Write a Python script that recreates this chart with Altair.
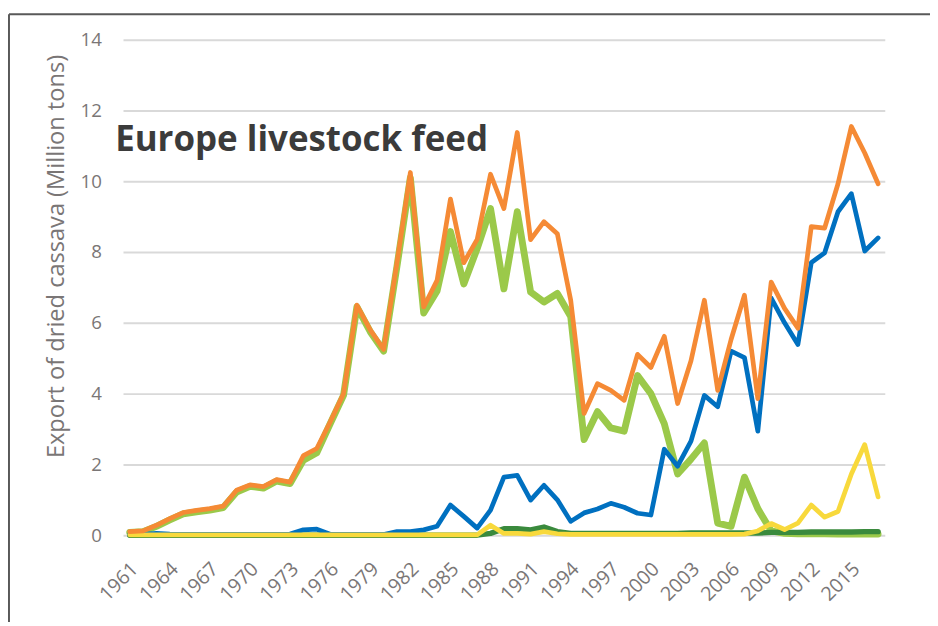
import altair as alt
import pandas as pd

years = list(range(1961, 2018))

total = [0.10, 0.12, 0.28, 0.47, 0.64, 0.70, 0.75, 0.82, 1.27, 1.42,
         1.37, 1.57, 1.50, 2.25, 2.45, 3.20, 4.00, 6.50, 5.80, 5.25,
         7.70, 10.25, 6.45, 7.20, 9.50, 7.70, 8.36, 10.20, 9.23, 11.38,
         8.35, 8.86, 8.52, 6.64, 3.44, 4.28, 4.09, 3.81, 5.11, 4.74,
         5.62, 3.72, 4.93, 6.64, 4.09, 5.53, 6.78, 3.86, 7.15, 6.41,
         5.85, 8.72, 8.68, 9.93, 11.55, 10.80, 9.93]

europe = [0.08, 0.10, 0.25, 0.43, 0.60, 0.66, 0.71, 0.78, 1.22, 1.38,
          1.33, 1.53, 1.46, 2.12, 2.33, 3.15, 3.95, 6.45, 5.75, 5.20,
          7.60, 10.10, 6.28, 6.90, 8.58, 7.10, 8.10, 9.23, 6.96, 9.14,
          6.87, 6.59, 6.83, 6.18, 2.70, 3.49, 3.03, 2.94, 4.51, 4.00,
          3.15, 1.73, 2.15, 2.61, 0.34, 0.25, 1.64, 0.75, 0.12, 0.05,
          0.04, 0.04, 0.04, 0.03, 0.03, 0.03, 0.03]

series_blue = [0.02, 0.02, 0.05, 0.03, 0.02, 0.02, 0.02, 0.02, 0.02, 0.02,
               0.02, 0.02, 0.03, 0.15, 0.17, 0.03, 0.02, 0.02, 0.02, 0.02,
               0.10, 0.10, 0.15, 0.25, 0.85, 0.53, 0.20, 0.71, 1.64, 1.69,
               0.99, 1.41, 1.00, 0.39, 0.63, 0.74, 0.90, 0.79, 0.62, 0.57,
               2.43, 1.95, 2.66, 3.95, 3.63, 5.20, 5.02, 2.94, 6.70, 6.00,
               5.39, 7.70, 7.98, 9.14, 9.65, 8.03, 8.40]

series_yellow = [0.01, 0.01, 0.01, 0.01, 0.01, 0.01, 0.01, 0.01, 0.01, 0.01,
                 0.01, 0.01, 0.01, 0.01, 0.01, 0.01, 0.01, 0.01, 0.01, 0.01,
                 0.01, 0.01, 0.01, 0.01, 0.01, 0.01, 0.01, 0.28, 0.05, 0.05,
                 0.03, 0.10, 0.04, 0.02, 0.02, 0.02, 0.02, 0.02, 0.02, 0.02,
                 0.02, 0.02, 0.02, 0.02, 0.02, 0.02, 0.03, 0.12, 0.33, 0.16,
                 0.34, 0.85, 0.51, 0.67, 1.73, 2.56, 1.08]

series_darkgreen = [0.0, 0.0, 0.0, 0.0, 0.0, 0.0, 0.0, 0.0, 0.0, 0.0,
                    0.0, 0.0, 0.0, 0.0, 0.0, 0.0, 0.0, 0.0, 0.0, 0.0,
                    0.0, 0.0, 0.0, 0.0, 0.0, 0.0, 0.0, 0.05, 0.18, 0.18,
                    0.15, 0.23, 0.10, 0.05, 0.05, 0.05, 0.05, 0.05, 0.05, 0.05,
                    0.05, 0.05, 0.06, 0.06, 0.06, 0.06, 0.06, 0.06, 0.08, 0.08,
                    0.08, 0.09, 0.09, 0.09, 0.09, 0.10, 0.10]

x_ticks = list(range(1961, 2016, 3))
y_ticks = [0, 2, 4, 6, 8, 10, 12, 14]

title_text = "Europe livestock feed"
y_title = "Export of dried cassava (Million tons)"

series = [
    ("europe", europe, "#9BC94A", 7),
    ("darkgreen", series_darkgreen, "#3A8A3D", 5.5),
    ("blue", series_blue, "#0070C0", 4.8),
    ("yellow", series_yellow, "#F8D93C", 4.8),
    ("total", total, "#F58A35", 4.8),
]

rows = []
for name, vals, _, _ in series:
    for yr, v in zip(years, vals):
        rows.append({"year": yr, "value": v, "series": name})
df = pd.DataFrame(rows)

TXT = "#7A7676"
FONT = "Open Sans"

x_enc = alt.X("year:Q",
              scale=alt.Scale(domain=[1960.5, 2017.5], nice=False, zero=False),
              axis=alt.Axis(values=x_ticks, format="d", labelAngle=315,
                            labelAlign="right", labelBaseline="middle",
                            labelPadding=31, labelOffset=5, labelFont=FONT,
                            labelFontSize=20, labelColor=TXT, ticks=False,
                            domain=False, grid=False, title=None,
                            labelOverlap=False))
y_enc = alt.Y("value:Q",
              scale=alt.Scale(domain=[0, 14], nice=False),
              axis=alt.Axis(values=y_ticks, grid=True, gridColor="#D9D9D9",
                            gridWidth=2, ticks=False, domain=False,
                            labelFont=FONT, labelFontSize=19, labelColor=TXT,
                            labelPadding=22, title=y_title, titleFont=FONT,
                            titleFontSize=24, titleFontWeight="normal",
                            titleColor=TXT, titleX=-68, titleY=220,
                            titleAngle=270, titleAlign="center",
                            titleBaseline="middle"))

layers = []
for name, _, color, sw in series:
    layers.append(
        alt.Chart(df).transform_filter(alt.datum.series == name)
        .mark_line(color=color, strokeWidth=sw, strokeJoin="round", strokeCap="round")
        .encode(x=x_enc, y=y_enc)
    )

one = pd.DataFrame({"a": [0]})
frame_top = alt.Chart(one).mark_rule(color="#595959", strokeWidth=2).encode(
    x=alt.value(-116), x2=alt.value(830), y=alt.value(-26))
frame_left = alt.Chart(one).mark_rule(color="#595959", strokeWidth=2).encode(
    x=alt.value(-116), y=alt.value(-26), y2=alt.value(600))
title = alt.Chart(one).mark_text(text=title_text, align="left", baseline="alphabetic",
                                 font=FONT, fontSize=35.5, fontWeight="bold",
                                 color="#3B3B3B").encode(x=alt.value(-8), y=alt.value(113))

chart = alt.layer(*layers, frame_top, frame_left, title).properties(
    width=775, height=504,
    padding={"left": 117, "top": 27, "right": 46, "bottom": 83},
    autosize=alt.AutoSizeParams(type="none"),
).configure_view(stroke=None)

chart.save("out.html", embed_options={"renderer": "svg", "actions": False})
